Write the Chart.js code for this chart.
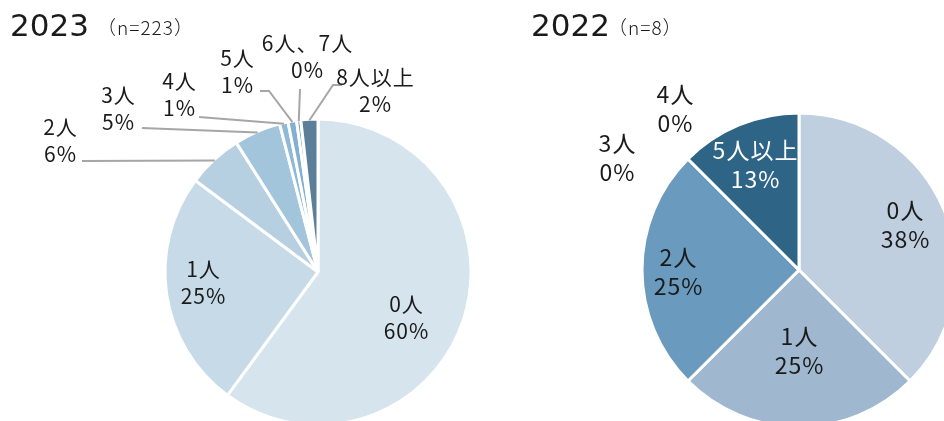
<!DOCTYPE html>
<html lang="ja">
<head>
<meta charset="UTF-8">
<title>世帯人数</title>
<style>
  body { margin: 0; background: #ffffff; width: 944px; height: 421px; overflow: hidden; position: relative; }
  .pie-box { position: absolute; top: 0; height: 421px; }
  #box2023 { left: 0; width: 500px; }
  #box2022 { left: 500px; width: 444px; }
</style>
<script src="https://cdn.jsdelivr.net/npm/chart.js"></script>
</head>
<body>
<div class="pie-box" id="box2023"><canvas id="pie2023"></canvas></div>
<div class="pie-box" id="box2022"><canvas id="pie2022"></canvas></div>

<script>
// 2023 (n=223)
const categories2023 = ['0人', '1人', '2人', '3人', '4人', '5人', '6人、7人', '8人以上'];
const counts2023 = [134, 56, 13, 11, 2, 2, 1, 4];
const colors2023 = ['#d6e4ee', '#c6dae7', '#b6d0e1', '#a3c5dc', '#8fb9d6', '#82b0d0', '#78a5c4', '#5b7f98'];

// 2022 (n=8)
const categories2022 = ['0人', '1人', '2人', '3人', '4人', '5人以上'];
const counts2022 = [3, 2, 2, 0, 0, 1];
const colors2022 = ['#bfcfdf', '#9fb8cf', '#6a9bbe', '#4f86ad', '#3d759c', '#2e6485'];

// label placement relative to the pie centre: [dx, dy] of the text block,
// optional leader line start and bend point
const labels2023 = [
  { at: [88, 46] },
  { at: [-115, 11] },
  { at: [-258, -131], line: [[-236, -111]] },
  { at: [-200, -163], line: [[-176, -144]] },
  { at: [-139, -177], line: [[-119, -155]] },
  { at: [-81, -200], line: [[-58, -181], [-49, -181]] },
  { at: [-11, -215], line: [[-18, -183]] },
  { at: [57, -181], line: [[24, -187], [15, -187]] }
];
const labels2022 = [
  { at: [106, -45] },
  { at: [0, 81] },
  { at: [-121, 2] },
  { at: [-182, -112] },
  { at: [-124, -161] },
  { at: [-44, -105], color: '#ffffff' }
];

const sliceLabels = {
  id: 'sliceLabels',
  afterDatasetsDraw(chart, args, opts) {
    const ctx = chart.ctx;
    const meta = chart.getDatasetMeta(0);
    const values = chart.data.datasets[0].data;
    const total = values.reduce((a, b) => a + b, 0);
    const first = meta.data[0];
    const cx = first.x, cy = first.y;
    ctx.save();

    // leader lines
    ctx.strokeStyle = '#a6a6a6';
    ctx.lineWidth = 2;
    opts.layout.forEach((lab, i) => {
      if (!lab.line) return;
      const arc = meta.data[i];
      const mid = (arc.startAngle + arc.endAngle) / 2;
      ctx.beginPath();
      ctx.moveTo(cx + lab.line[0][0], cy + lab.line[0][1]);
      for (let k = 1; k < lab.line.length; k++) ctx.lineTo(cx + lab.line[k][0], cy + lab.line[k][1]);
      ctx.lineTo(cx + Math.cos(mid) * (arc.outerRadius - 1), cy + Math.sin(mid) * (arc.outerRadius - 1));
      ctx.stroke();
    });

    // category + percentage
    ctx.font = opts.fontSize + 'px "Noto Sans CJK JP", sans-serif';
    ctx.letterSpacing = '1px';
    ctx.textAlign = 'center';
    ctx.textBaseline = 'middle';
    opts.layout.forEach((lab, i) => {
      const pct = Math.round(values[i] / total * 100) + '%';
      const x = cx + lab.at[0] + 0.5, y = cy + lab.at[1];
      ctx.fillStyle = lab.color || '#1a1a1a';
      ctx.fillText(chart.data.labels[i], x, y - opts.lineHeight / 2);
      ctx.fillText(pct, x, y + opts.lineHeight / 2);
    });

    // heading
    ctx.textAlign = 'left';
    ctx.textBaseline = 'alphabetic';
    ctx.fillStyle = '#1a1a1a';
    ctx.letterSpacing = '0px';
    ctx.font = '31px "DejaVu Sans", sans-serif';
    ctx.fillText(opts.title[0], opts.titlePos[0], opts.titlePos[1]);
    ctx.letterSpacing = '1px';
    ctx.font = '300 19px "Noto Sans CJK JP", sans-serif';
    ctx.fillText(opts.title[1], opts.titlePos[2], opts.titlePos[1] - 1);
    ctx.restore();
  }
};

function makePie(id, labels, data, colors, radius, padding, plug) {
  return new Chart(document.getElementById(id), {
    type: 'pie',
    data: {
      labels: labels,
      datasets: [{
        data: data,
        backgroundColor: colors,
        borderColor: '#ffffff',
        borderWidth: 3,
        radius: radius,
        clip: false
      }]
    },
    options: {
      responsive: true,
      maintainAspectRatio: false,
      animation: false,
      events: [],
      rotation: 0,
      layout: { padding: padding },
      plugins: {
        legend: { display: false },
        tooltip: { enabled: false },
        sliceLabels: plug
      }
    },
    plugins: [sliceLabels]
  });
}

makePie('pie2023', categories2023, counts2023, colors2023, 153,
  { left: 136, right: 0, top: 123, bottom: 0 },
  { layout: labels2023, fontSize: 21, lineHeight: 27, title: ['2023', '（n=223）'], titlePos: [10, 36, 97] });

makePie('pie2022', categories2022, counts2022, colors2022, 157,
  { left: 154, right: 0, top: 119, bottom: 0 },
  { layout: labels2022, fontSize: 23, lineHeight: 29, title: ['2022', '（n=8）'], titlePos: [31, 36, 108] });
</script>
</body>
</html>
